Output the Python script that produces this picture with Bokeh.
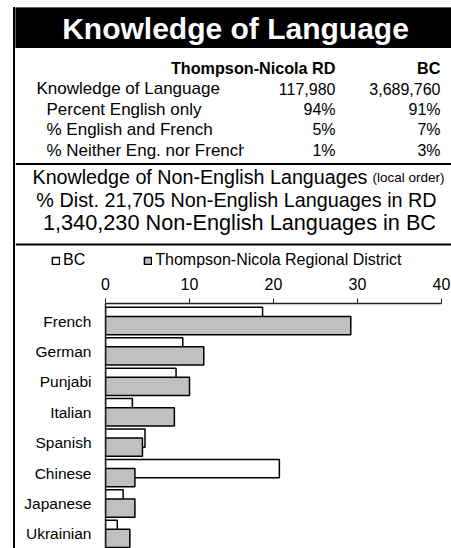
from bokeh.plotting import figure
from bokeh.models import Range1d, ColumnDataSource, FixedTicker, Legend, LegendItem
from bokeh.layouts import column
from bokeh.transform import dodge
from bokeh.embed import file_html
from bokeh.resources import INLINE
from bokeh.core.properties import value

FONT = "Liberation Sans"

# ---------------- data ----------------
title_text = "Knowledge of Language"
table_header = ["Thompson-Nicola RD", "BC"]
table_labels = ["Knowledge of Language", "Percent English only",
                "% English and French", "% Neither Eng. nor French"]
rd_column = ["117,980", "94%", "5%", "1%"]
bc_column = ["3,689,760", "91%", "7%", "3%"]
sub_title = "Knowledge of Non-English Languages"
sub_note = "(local order)"
sub_line2 = "% Dist. 21,705 Non-English Languages in RD"
sub_line3 = "1,340,230 Non-English Languages in BC"

series_names = ["BC", "Thompson-Nicola Regional District"]
languages = ["French", "German", "Punjabi", "Italian", "Spanish",
             "Chinese", "Japanese", "Ukrainian"]
bc_pct = [18.7, 9.2, 8.4, 3.2, 4.7, 20.7, 2.1, 1.4]
rd_pct = [29.2, 11.7, 10.0, 8.2, 4.4, 3.5, 3.5, 2.9]
x_ticks = [0, 10, 20, 30, 40]

# ---------------- layout constants ----------------
W = 436
HA = 263
HB = 278
TXT = "15.5px"
TAB = "17px"
BC_STYLE = dict(fill_color="white", line_color="black", line_width=1.5)
RD_STYLE = dict(fill_color="#c0c0c0", line_color="black", line_width=1.5)

# ---------------- header figure ----------------
pa = figure(width=W, height=HA, x_range=Range1d(0, W), y_range=Range1d(HA, 0),
            output_backend="svg", toolbar_location=None, min_border=0,
            x_axis_location=None, y_axis_location=None, outline_line_color=None)
pa.grid.visible = False
pa.frame_align = False

pa.quad(left=[0], right=[W], top=[0], bottom=[40], color="black")
pa.text(x=[220], y=[21], text=[title_text], text_color="white",
        text_font=value(FONT), text_font_style="bold", text_font_size="30px",
        text_align="center", text_baseline="middle")

pa.text(x=[320, 425], y=[60, 60], text=table_header, text_font=value(FONT),
        text_font_style="bold", text_font_size="16.2px", text_align="right",
        text_baseline="middle", text_color="black")
row_y = [81, 102, 122, 143]
pa.text(x=[21, 31, 31, 31], y=row_y, text=table_labels, text_font=value(FONT),
        text_font_size=TAB, text_align="left", text_baseline="middle", text_color="black")
# the table cell clips the last label
pa.quad(left=[229], right=[285], top=[132], bottom=[154], color="white")
pa.text(x=[320] * 4, y=row_y, text=rd_column, text_font=value(FONT),
        text_font_size="16px", text_align="right", text_baseline="middle", text_color="black")
pa.text(x=[425] * 4, y=row_y, text=bc_column, text_font=value(FONT),
        text_font_size="16px", text_align="right", text_baseline="middle", text_color="black")

pa.segment(x0=[0, 0], y0=[156.5, 237], x1=[W, W], y1=[156.5, 237],
           line_color="black", line_width=2)

pa.text(x=[17], y=[169], text=[sub_title], text_font=value(FONT),
        text_font_size="19.7px", text_align="left", text_baseline="middle", text_color="black")
pa.text(x=[357], y=[170], text=[sub_note], text_font=value(FONT),
        text_font_size="13.5px", text_align="left", text_baseline="middle", text_color="black")
pa.text(x=[221], y=[192], text=[sub_line2], text_font=value(FONT),
        text_font_size="19.8px", text_align="center", text_baseline="middle", text_color="black")
pa.text(x=[224], y=[215], text=[sub_line3], text_font=value(FONT),
        text_font_size="21.7px", text_align="center", text_baseline="middle", text_color="black")

# legend swatches: same styles as the bars below (no visible marks here)
lg_src = ColumnDataSource(dict(y=[float("nan")], right=[float("nan")]))
lg_bc = pa.hbar(y="y", right="right", left=0, height=1, source=lg_src, **BC_STYLE)
lg_rd = pa.hbar(y="y", right="right", left=0, height=1, source=lg_src, **RD_STYLE)
legend = Legend(items=[LegendItem(label=series_names[0], renderers=[lg_bc]),
                       LegendItem(label=series_names[1], renderers=[lg_rd])],
                orientation="horizontal", location=(36, 1),
                label_text_font=FONT, label_text_font_size="16px",
                label_text_color="black",
                glyph_width=9, glyph_height=9, label_standoff=3, spacing=58,
                padding=0, margin=0, border_line_color=None,
                background_fill_alpha=0)
pa.add_layout(legend)

# ---------------- bar chart figure ----------------
idx = list(range(len(languages)))
src = ColumnDataSource(dict(idx=idx, lang=languages, bc=bc_pct, rd=rd_pct))

pb = figure(width=W, height=HB, x_range=Range1d(0, 41.19), y_range=Range1d(7.48, -0.576),
            output_backend="svg", toolbar_location=None, x_axis_location="above",
            min_border_left=90, min_border_right=0, min_border_top=33, min_border_bottom=0,
            outline_line_color=None)
pb.grid.visible = False
pb.frame_align = False

pb.hbar(y=dodge("idx", -0.15, range=pb.y_range), left=0, right="bc", height=0.6,
        source=src, **BC_STYLE)
pb.hbar(y=dodge("idx", 0.15, range=pb.y_range), left=0, right="rd", height=0.6,
        source=src, **RD_STYLE)

xa = pb.xaxis[0]
xa.ticker = FixedTicker(ticks=x_ticks)
xa.bounds = (0, 40)
xa.major_tick_out = 5
xa.major_tick_in = 0
xa.minor_tick_out = 0
xa.minor_tick_in = 0
xa.axis_line_color = "#222222"
xa.axis_line_width = 1.5
xa.major_tick_line_color = "#222222"
xa.major_label_text_font = FONT
xa.major_label_text_font_size = "16px"
xa.major_label_text_color = "black"
xa.major_label_standoff = 9

ya = pb.yaxis[0]
ya.ticker = FixedTicker(ticks=idx)
ya.major_label_overrides = {i: name for i, name in zip(idx, languages)}
ya.major_tick_out = 0
ya.major_tick_in = 0
ya.minor_tick_out = 0
ya.minor_tick_in = 0
ya.axis_line_color = "#222222"
ya.axis_line_width = 1.5
ya.major_label_text_font = FONT
ya.major_label_text_font_size = TXT
ya.major_label_text_color = "black"
ya.major_label_standoff = 14

layout = column(pa, pb, margin=(7, 0, 0, 13),
                styles={"border-left": "2px solid black"})

open("out.html", "w").write(file_html(layout, INLINE))
